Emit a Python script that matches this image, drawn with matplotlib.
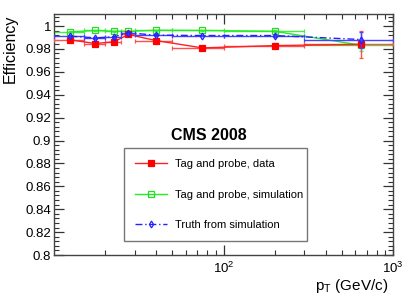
import numpy as np
import matplotlib
matplotlib.use("Agg")
import matplotlib.pyplot as plt
from matplotlib.lines import Line2D
from matplotlib.ticker import LogLocator, FixedLocator, NullFormatter, FuncFormatter

plt.rcParams['font.family'] = ['Liberation Sans', 'DejaVu Sans']
plt.rcParams['mathtext.fontset'] = 'custom'
plt.rcParams['mathtext.rm'] = 'Liberation Sans'
plt.rcParams['mathtext.it'] = 'Liberation Sans'

# bins in pT (GeV/c)
bin_lo = [10, 15, 20, 25, 30, 50, 100, 300]
bin_hi = [15, 20, 25, 30, 50, 100, 300, 1000]
pt = [12.5, 17.5, 22.5, 27.5, 40, 75, 200, 650]

eff_data = [0.9879, 0.9847, 0.9862, 0.9926, 0.9873, 0.9809, 0.9829, 0.9840]
err_data = [0.0012, 0.0017, 0.0017, 0.0015, 0.0012, 0.0012, 0.0025, 0.0115]
eff_sim = [0.9949, 0.9961, 0.9954, 0.9954, 0.9963, 0.9961, 0.9954, 0.9832]
err_sim = [0.0006, 0.0006, 0.0006, 0.0006, 0.0005, 0.0005, 0.0008, 0.0050]
eff_truth = [0.9911, 0.9897, 0.9905, 0.9940, 0.9920, 0.9917, 0.9917, 0.9882]
err_truth = [0.0008, 0.0008, 0.0008, 0.0008, 0.0007, 0.0007, 0.0010, 0.0070]

labels = ["Tag and probe, data", "Tag and probe, simulation", "Truth from simulation"]

W, H = 415, 298
fig = plt.figure(figsize=(W / 100, H / 100), dpi=100)
ax = fig.add_axes([54 / W, 1 - 255 / H, (393 - 54) / W, (255 - 14) / H])

pt_a = np.array(pt)
xerr = [pt_a - np.array(bin_lo), np.array(bin_hi) - pt_a]

styles = [
    dict(color='#ff2020', ecolor='#ff5050', marker='s', ms=4, mfc='red', mec='red', mew=0.9, ls='-'),
    dict(color='#22ee22', ecolor='#44ee44', marker='s', ms=4.5, mfc='none', mec='#22dd22', mew=0.9, ls='-'),
    dict(color='#2222ff', ecolor='#4444ff', marker='d', ms=3.5, mfc='none', mec='#2222ff', mew=0.9,
         ls=(0, (5, 2, 1, 2))),
]
series = [(eff_data, err_data), (eff_sim, err_sim), (eff_truth, err_truth)]
zs = [3, 2, 4]
handles = []
for (vals, errs), st, z, lab in zip(series, styles, zs, labels):
    ax.errorbar(pt, vals, yerr=errs, xerr=xerr, lw=1, elinewidth=1, capsize=1.5, zorder=z, **st)
    st2 = {k: v for k, v in st.items() if k != 'ecolor'}
    handles.append(Line2D([], [], lw=1, **st2))

ax.set_xscale('log')
ax.set_xlim(10, 1000)
ax.set_ylim(0.8, 1.0105)

ax.yaxis.set_major_locator(FixedLocator(np.arange(0.80, 1.001, 0.02)))
ax.yaxis.set_minor_locator(FixedLocator(np.arange(0.80, 1.0105, 0.004)))
ax.yaxis.set_major_formatter(FuncFormatter(lambda v, p: ('%.2f' % v).rstrip('0').rstrip('.')))

ax.xaxis.set_major_locator(FixedLocator([100, 1000]))
ax.xaxis.set_minor_locator(LogLocator(base=10, subs=np.arange(2, 10), numticks=20))
ax.xaxis.set_minor_formatter(NullFormatter())
ax.xaxis.set_major_formatter(FuncFormatter(lambda v, p: r'$10^{%d}$' % int(round(np.log10(v)))))

ax.tick_params(which='both', direction='in', top=True, right=True, colors='#333333',
               labelcolor='black', labelsize=9.5)
ax.tick_params(which='major', length=7, width=0.9)
ax.tick_params(which='minor', length=3.5, width=0.8)
ax.tick_params(axis='y', which='major', pad=2)
ax.tick_params(axis='x', which='major', pad=4)
for s in ax.spines.values():
    s.set_color('#444444')
    s.set_linewidth(1.0)

fig.text(10.5 / W, 1 - 15 / H, 'Efficiency', rotation=90, ha='center', va='top', fontsize=11.5)
fig.text(388 / W, 1 - 290 / H, r'p$_{\mathregular{T}}$ (GeV/c)', ha='right', va='baseline', fontsize=11)
fig.text(209 / W, 1 - 135 / H, 'CMS 2008', ha='center', va='center', fontsize=11.5, fontweight='bold')

leg = ax.legend(handles=handles, labels=labels, loc='upper left',
                bbox_to_anchor=((124 - 54) / 339, (255 - 148) / 241, (307 - 124) / 339, 0.0),
                mode='expand', borderaxespad=0, fontsize=8, frameon=True, fancybox=False,
                labelspacing=1.85, handlelength=2.9, handletextpad=0.7, borderpad=1.0)
leg.get_frame().set_edgecolor('#555555')
leg.get_frame().set_linewidth(1.0)

fig.savefig('out.png', dpi=100)
